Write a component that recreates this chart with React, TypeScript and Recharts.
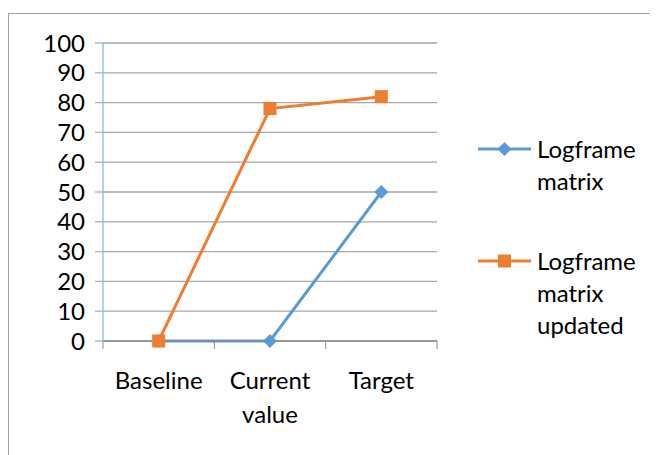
import { LineChart, Line, XAxis, YAxis, CartesianGrid } from 'recharts';

const categories = ['Baseline', 'Current value', 'Target'];
const logframe = [0, 0, 50];
const logframeUpdated = [0, 78, 82];
const yTicks = [0, 10, 20, 30, 40, 50, 60, 70, 80, 90, 100];

const BLUE = '#5b9bd5';
const ORANGE = '#ed7d31';
const FONT = 'Lato, "Open Sans", sans-serif';
const FS = 24;

const data = categories.map((c, i) => ({
  x: i + 0.5,
  name: c,
  logframe: logframe[i],
  updated: logframeUpdated[i],
}));

const xTicks = [0, 0.5, 1, 1.5, 2, 2.5, 3];

const CategoryTick = (props: any) => {
  const { x, y, payload } = props;
  const v = payload.value;
  if (Number.isInteger(v)) {
    return <line x1={x} y1={y} x2={x} y2={y + 8} stroke="#8c8c8c" strokeWidth={1} />;
  }
  const label = categories[Math.floor(v)] || '';
  const words = label.split(' ');
  return (
    <text x={x} y={y + 48} textAnchor="middle" fill="#000" fontSize={FS} fontFamily={FONT}>
      {words.map((w, i) => (
        <tspan key={i} x={x} dy={i === 0 ? 0 : 34}>{w}</tspan>
      ))}
    </text>
  );
};

const Diamond = (props: any) => {
  const { cx, cy } = props;
  if (cx == null || cy == null) return null;
  const r = 7;
  return <path d={`M${cx},${cy - r}L${cx + r},${cy}L${cx},${cy + r}L${cx - r},${cy}Z`} fill={BLUE} />;
};

const Square = (props: any) => {
  const { cx, cy } = props;
  if (cx == null || cy == null) return null;
  const s = 13;
  return <rect x={cx - s / 2} y={cy - s / 2} width={s} height={s} fill={ORANGE} />;
};

const legendItems = [
  { label: ['Logframe', 'matrix'], color: BLUE, marker: 'diamond', top: 119 },
  { label: ['Logframe', 'matrix', 'updated'], color: ORANGE, marker: 'square', top: 231 },
];

export default function App() {
  return (
    <div style={{ paddingTop: 5 }}>
      <div
        style={{
          position: 'relative',
          width: 650,
          height: 442,
          borderTop: '1px solid #a0a0a0',
          borderLeft: '1px solid #a0a0a0',
          boxSizing: 'border-box',
          background: '#fff',
        }}
      >
        <div style={{ position: 'absolute', left: -1, top: -1 }}>
          <LineChart
            width={650}
            height={442}
            data={data}
            margin={{ top: 30, right: 221, bottom: 14, left: 0 }}
          >
            <CartesianGrid vertical={false} stroke="#a6a6a6" strokeWidth={1.3} />
            <XAxis
              dataKey="x"
              type="number"
              domain={[0, 3]}
              ticks={xTicks}
              interval={0}
              axisLine={{ stroke: '#8c8c8c', strokeWidth: 1.3 }}
              tickLine={false}
              tickSize={0}
              tickMargin={0}
              tick={<CategoryTick />}
              height={100}
            />
            <YAxis
              domain={[0, 100]}
              ticks={yTicks}
              interval={0}
              width={95}
              axisLine={{ stroke: '#8fb8e3', strokeWidth: 1.3 }}
              tickLine={{ stroke: '#8fb8e3', strokeWidth: 1.3 }}
              tickSize={8}
              tickMargin={10}
              tick={{ fill: '#000', fontSize: FS, fontFamily: FONT }}
            />
            <Line
              dataKey="logframe"
              stroke={BLUE}
              strokeWidth={3}
              dot={<Diamond />}
              activeDot={false}
              isAnimationActive={false}
            />
            <Line
              dataKey="updated"
              stroke={ORANGE}
              strokeWidth={3}
              dot={<Square />}
              activeDot={false}
              isAnimationActive={false}
            />
          </LineChart>
        </div>
        {legendItems.map((it, i) => (
          <div key={i} style={{ position: 'absolute', left: 468, top: it.top }}>
            <svg width={56} height={32} style={{ position: 'absolute', left: 0, top: 0 }}>
              <line x1={1} y1={16} x2={54} y2={16} stroke={it.color} strokeWidth={3} />
              {it.marker === 'diamond' ? (
                <path d="M27.5,9L34.5,16L27.5,23L20.5,16Z" fill={it.color} />
              ) : (
                <rect x={21} y={9.5} width={13} height={13} fill={it.color} />
              )}
            </svg>
            <div
              style={{
                position: 'absolute',
                left: 60,
                top: 0,
                fontFamily: FONT,
                fontSize: FS,
                lineHeight: '32px',
                color: '#000',
                whiteSpace: 'nowrap',
              }}
            >
              {it.label.map((l, j) => (
                <div key={j}>{l}</div>
              ))}
            </div>
          </div>
        ))}
      </div>
    </div>
  );
}
